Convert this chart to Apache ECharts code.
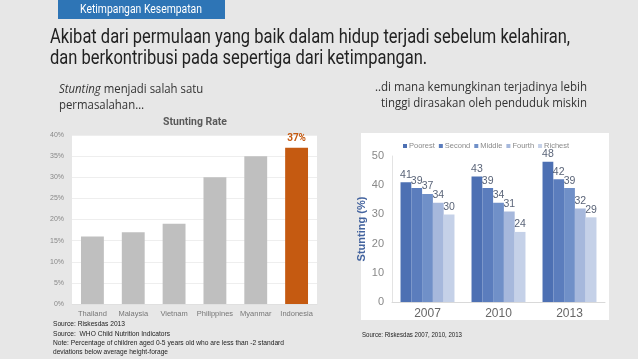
<!DOCTYPE html>
<html><head><meta charset="utf-8">
<script src="https://cdn.jsdelivr.net/npm/echarts@6/dist/echarts.min.js"></script>
<style>html,body{margin:0;padding:0;background:#e7e7e7}#c{width:638px;height:359px}</style>
</head><body><div id="c"></div>
<script>
const countries = ['Thailand','Malaysia','Vietnam','Philippines','Myanmar','Indonesia'];
const stuntingRate = [16,17,19,30,35,37];
const years = ['2007','2010','2013'];
const quintiles = ['Poorest','Second','Middle','Fourth','Richest'];
const poorest = [41,43,48];
const second = [39,39,42];
const middle = [37,34,39];
const fourth = [34,31,32];
const richest = [30,24,29];
const quintileValues = [poorest, second, middle, fourth, richest];
const quintileColors = ['#4d70b3','#5b7dbd','#7090c8','#a6b8dc','#c5d1e8'];

const cv = document.createElement('canvas').getContext('2d');
function fitScale(text, font, w){ cv.font = font; return w / cv.measureText(text).width; }

const titleFont = '20px Roboto';
const t1 = 'Akibat dari permulaan yang baik dalam hidup terjadi sebelum kelahiran,';
const t2 = 'dan berkontribusi pada sepertiga dari ketimpangan.';
const tScale = fitScale(t1, titleFont, 520);
const bannerText = 'Ketimpangan Kesempatan';
const bScale = fitScale(bannerText, '12px Roboto', 122);
const subFont = '12px "Open Sans"';
const sL1 = 'Stunting menjadi salah satu';
const sScale = fitScale(sL1, subFont, 147);
const sR1 = '..di mana kemungkinan terjadinya lebih';
const sR2 = 'tinggi dirasakan oleh penduduk miskin';
const rScale1 = fitScale(sR1, subFont, 212);
const rScale2 = fitScale(sR2, subFont, 206);
const srcFont = '8px "Liberation Sans"';
const src = [
  ['Source: Riskesdas 2013', 53, 324, 72],
  ['Source:  WHO Child Nutrition Indicators', 53, 334, 117],
  ['Note: Percentage of children aged 0-5 years old who are less than -2 standard', 53, 343, 231],
  ['deviations below average height-forage', 53, 352, 115],
  ['Source: Riskesdas 2007, 2010, 2013', 362, 335, 100]
];

function txt(text, x, y, font, fill, scaleX, extra){
  return Object.assign({type:'text', x:x, y:y, scaleX:scaleX||1,
    style:{text:text, font:font, fill:fill, textVerticalAlign:'middle'}}, extra||{});
}

const graphics = [
  {type:'rect', shape:{x:58,y:0,width:167,height:19}, style:{fill:'#2e75b6'}},
  txt(bannerText, 80, 10, '12px Roboto', '#ffffff', bScale),
  txt(t1, 50, 38, titleFont, '#222222', tScale),
  txt(t2, 50, 59, titleFont, '#222222', tScale),
  {type:'text', x:59, y:90, scaleX:sScale, style:{text:'{i|Stunting} menjadi salah satu', font:subFont, fill:'#333', textVerticalAlign:'middle',
    rich:{i:{fontStyle:'italic', font:'italic 12px "Open Sans"', fill:'#333'}}}},
  txt('permasalahan…', 59, 106, subFont, '#333', sScale),
  txt(sR1, 375, 88, subFont, '#333', rScale1),
  txt(sR2, 381, 104, subFont, '#333', rScale2),
  txt('Stunting Rate', 195, 122, 'bold 11px Roboto', '#595959', 0.95, {style:{text:'Stunting Rate', font:'bold 11px Roboto', fill:'#595959', textAlign:'center', textVerticalAlign:'middle'}}),
  {type:'rect', z:-10, shape:{x:361,y:133,width:248,height:187}, style:{fill:'#ffffff'}}
];
src.forEach(s => graphics.push(txt(s[0], s[1], s[2], srcFont, '#222', fitScale(s[0], srcFont, s[3]))));

const series = [{
  type:'bar', xAxisIndex:0, yAxisIndex:0, barWidth:'56%',
  data: stuntingRate.map((v,i) => i === stuntingRate.length-1 ?
    {value:v, itemStyle:{color:'#c55a11'}, label:{show:true, position:'top', formatter:'{c}%', color:'#c55a11', fontWeight:'bold', fontSize:10, fontFamily:'Roboto', distance:4}} : v),
  itemStyle:{color:'#bfbfbf'}
}];
quintiles.forEach((q,i) => series.push({
  type:'bar', name:q, xAxisIndex:1, yAxisIndex:1, barGap:'0%', barCategoryGap:'24%',
  data: quintileValues[i], itemStyle:{color:quintileColors[i]},
  label:{show:true, position:'top', color:'#5a6478', fontSize:10.5, fontFamily:'Liberation Sans', distance:2}
}));

const chart = echarts.init(document.getElementById('c'));
chart.setOption({
  backgroundColor:'#e7e7e7',
  animation:false,
  graphic: graphics,
  legend:{data:quintiles, left:398, top:137, itemWidth:4, itemHeight:4, itemGap:4, icon:'rect',
    textStyle:{fontSize:7.5, color:'#8a8a8a', fontFamily:'Liberation Sans', padding:[0,0,0,-3]}},
  grid:[
    {left:72, right:321, top:135, bottom:55, show:true, backgroundColor:'#ffffff', borderWidth:0},
    {left:392, right:33, top:156, bottom:57}
  ],
  xAxis:[
    {type:'category', gridIndex:0, data:countries, axisTick:{show:false},
     axisLine:{lineStyle:{color:'#e0e0e0'}},
     axisLabel:{interval:0, fontSize:7.5, color:'#777', fontFamily:'Liberation Sans', margin:6}},
    {type:'category', gridIndex:1, data:years, axisTick:{show:false},
     axisLine:{lineStyle:{color:'#d9d9d9'}},
     axisLabel:{fontSize:12, color:'#666', fontFamily:'Liberation Sans', margin:6}}
  ],
  yAxis:[
    {type:'value', gridIndex:0, min:0, max:40, interval:5,
     axisLabel:{formatter:'{value}%', fontSize:7, color:'#888', fontFamily:'Liberation Sans', margin:8},
     splitLine:{lineStyle:{color:'#eeeeee'}}, axisLine:{show:false}, axisTick:{show:false}},
    {type:'value', gridIndex:1, min:0, max:50, interval:10,
     name:'Stunting (%)', nameLocation:'middle', nameRotate:90, nameGap:22,
     nameTextStyle:{fontSize:11, fontWeight:'bold', color:'#44649f', fontFamily:'Liberation Sans'},
     axisLabel:{fontSize:11, color:'#888', fontFamily:'Liberation Sans', margin:8},
     splitLine:{show:false}, axisLine:{show:true, lineStyle:{color:'#e3e3e3'}}, axisTick:{show:false}}
  ],
  series: series
});
</script></body></html>
